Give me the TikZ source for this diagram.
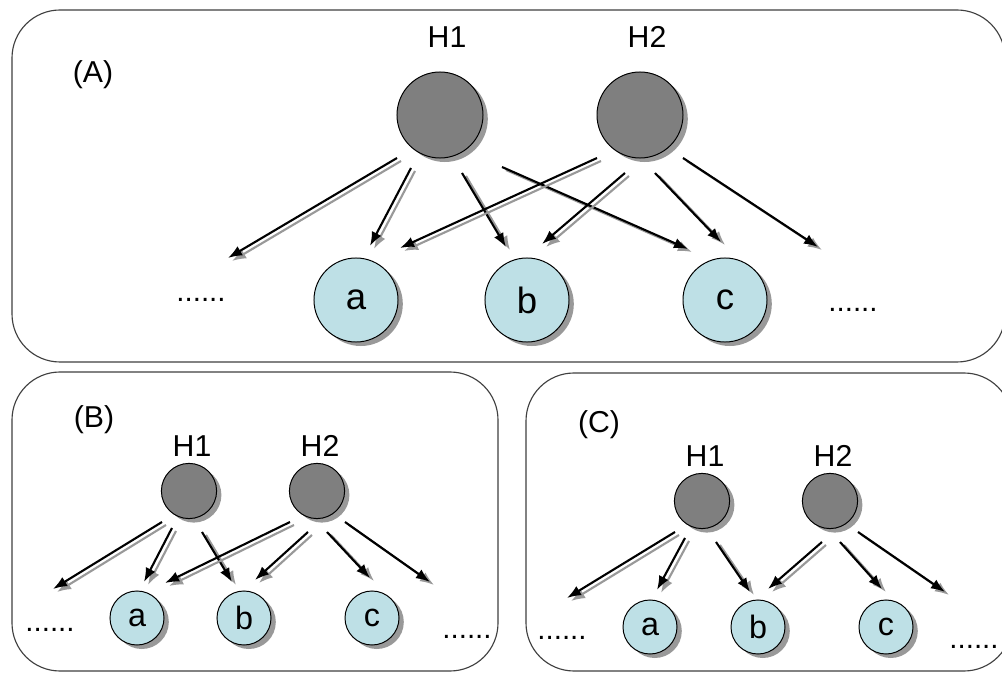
\documentclass[tikz,border=0pt]{standalone}
\usepackage{fontspec}
\setmainfont{Liberation Sans}
\usetikzlibrary{arrows.meta,shadows}
\definecolor{hidden}{HTML}{7F7F7F}
\definecolor{visible}{HTML}{BEE0E6}
\definecolor{frame}{HTML}{404040}
\newcommand\shadarrow[2]{%
  \draw[arrsh] ([shift={(4,3)}]#1) -- ([shift={(4,3)}]#2);
  \draw[arr] (#1) -- (#2);}
\tikzset{
  panel/.style={draw=frame, line width=0.8pt, rounded corners=48*0.025cm},
  circbase/.style={circle, draw=black, line width=0.7pt, inner sep=0pt,
    drop shadow={shadow xshift=0.12cm, shadow yshift=-0.1cm, fill=black, opacity=0.4}},
  bigH/.style={circbase, fill=hidden, minimum size=2.15cm},
  bigV/.style={circbase, fill=visible, minimum size=2.1cm,
    font=\fontsize{26}{26}\selectfont},
  smallH/.style={circbase, fill=hidden, minimum size=1.38cm},
  smallV/.style={circbase, fill=visible, minimum size=1.35cm,
    font=\fontsize{23}{23}\selectfont},
  lab/.style={inner sep=0pt, font=\fontsize{21.5}{21.5}\selectfont},
  dots/.style={inner sep=0pt, font=\fontsize{21}{21}\selectfont},
  arr/.style={line width=1.5pt, draw=black, -{Latex[length=10pt,width=7.5pt]}},
  arrsh/.style={line width=1.5pt, draw=black!40, -{Latex[length=10pt,width=7.5pt]}},
}
\begin{document}
\begin{tikzpicture}[x=0.025cm, y=-0.025cm]
\useasboundingbox (0,0) rectangle (1002,675);
\fill[white] (0,0) rectangle (1002,675);
% panels
\draw[panel] (12,10) rectangle (1005,362);
\draw[panel] (12,372) rectangle (498,671);
\draw[panel] (526,373) rectangle (1012,671);

% ---------------- Panel A ----------------
\node[lab] (Alab) at (93,75) {(A)};
\node[lab] (AH1l) at (447,37) {H1};
\node[lab] (AH2l) at (647,37) {H2};
\node[bigH] (AH1) at (440,115) {};
\node[bigH] (AH2) at (640,115) {};
\node[bigV] (Aa) at (356,300) {a};
\node[bigV] (Ab) at (527,300) {b};
\node[bigV] (Ac) at (725,300) {c};
\node[dots] (Adl) at (201,300) {......};
\node[dots] (Adr) at (853,310) {......};
\coordinate (As1) at (397,158); \coordinate (Ae1) at (228,258);
\coordinate (As2) at (411,168); \coordinate (Ae2) at (370,246);
\coordinate (As3) at (462,173); \coordinate (Ae3) at (506,247);
\coordinate (As4) at (502,167); \coordinate (Ae4) at (688,249);
\coordinate (As5) at (597,158); \coordinate (Ae5) at (400,248);
\coordinate (As6) at (625,173); \coordinate (Ae6) at (542,244);
\coordinate (As7) at (655,173); \coordinate (Ae7) at (721,242);
\coordinate (As8) at (683,158); \coordinate (Ae8) at (818,247);
\foreach \i in {1,...,8}{\shadarrow{As\i}{Ae\i}}

% ---------------- Panel B ----------------
\node[lab] (Blab) at (94,420) {(B)};
\node[lab] (BH1l) at (192,446) {H1};
\node[lab] (BH2l) at (320,446) {H2};
\node[smallH] (BH1) at (189,491) {};
\node[smallH] (BH2) at (317,491) {};
\node[smallV] (Ba) at (137,618) {a};
\node[smallV] (Bb) at (244,618) {b};
\node[smallV] (Bc) at (372,618) {c};
\node[dots] (Bdl) at (50,630) {......};
\node[dots] (Bdr) at (467,637) {......};
\coordinate (Bs1) at (162,522); \coordinate (Be1) at (53,589);
\coordinate (Bs2) at (172,528); \coordinate (Be2) at (144,582);
\coordinate (Bs3) at (202,532); \coordinate (Be3) at (232,582);
\coordinate (Bs4) at (290,522); \coordinate (Be4) at (165,583);
\coordinate (Bs5) at (308,532); \coordinate (Be5) at (255,580);
\coordinate (Bs6) at (327,532); \coordinate (Be6) at (370,578);
\coordinate (Bs7) at (345,522); \coordinate (Be7) at (430,582);
\foreach \i in {1,...,7}{\shadarrow{Bs\i}{Be\i}}

% ---------------- Panel C ----------------
\node[lab] (Clab) at (599,425) {(C)};
\node[lab] (CH1l) at (705,456) {H1};
\node[lab] (CH2l) at (833,456) {H2};
\node[smallH] (CH1) at (702,501) {};
\node[smallH] (CH2) at (830,501) {};
\node[smallV] (Ca) at (650,627) {a};
\node[smallV] (Cb) at (758,627) {b};
\node[smallV] (Cc) at (886,627) {c};
\node[dots] (Cdl) at (562,638) {......};
\node[dots] (Cdr) at (974,647) {......};
\coordinate (Cs1) at (675,532); \coordinate (Ce1) at (567,598);
\coordinate (Cs2) at (685,538); \coordinate (Ce2) at (657,590);
\coordinate (Cs3) at (716,542); \coordinate (Ce3) at (750,592);
\coordinate (Cs4) at (822,542); \coordinate (Ce4) at (768,589);
\coordinate (Cs5) at (840,542); \coordinate (Ce5) at (882,589);
\coordinate (Cs6) at (858,532); \coordinate (Ce6) at (945,592);
\foreach \i in {1,...,6}{\shadarrow{Cs\i}{Ce\i}}
\end{tikzpicture}
\end{document}
